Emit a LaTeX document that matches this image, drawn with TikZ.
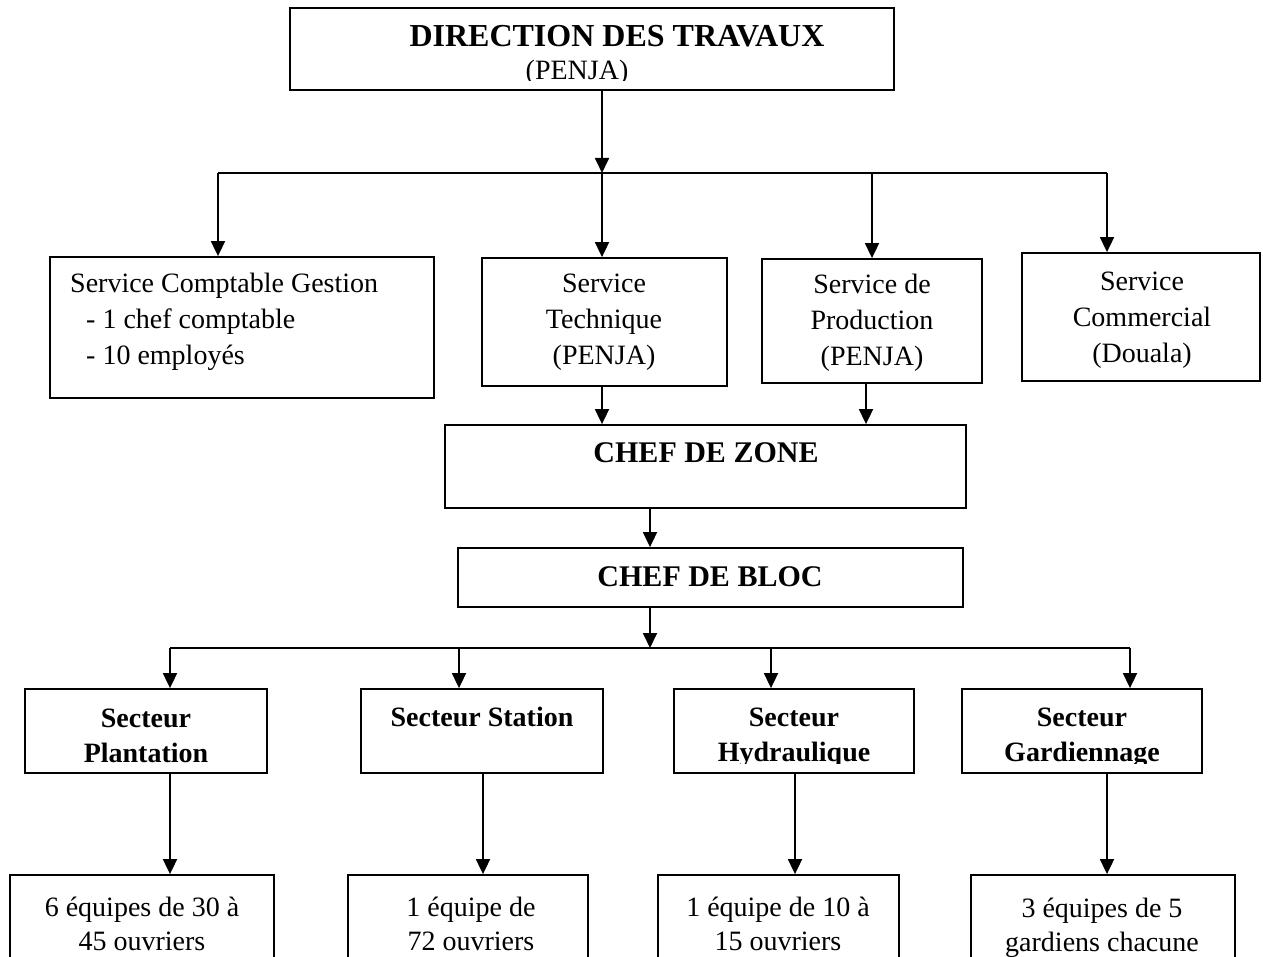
\documentclass[tikz,border=0pt]{standalone}
\usepackage{fontspec}
\setmainfont{Liberation Serif}
\usetikzlibrary{arrows.meta}
\begin{document}
\begin{tikzpicture}[x=1pt,y=-1pt,
  box/.style={draw,line width=1.8pt,inner sep=0pt,rectangle},
  txt/.style={inner sep=0pt,align=center,font=\fontsize{28}{36}\selectfont},
  ltxt/.style={inner sep=0pt,align=center,font=\fontsize{28}{34}\selectfont},
  btxt/.style={inner sep=0pt,align=center,font=\fontsize{28}{35}\selectfont\bfseries},
  captxt/.style={inner sep=0pt,align=center,font=\fontsize{30}{36}\selectfont\bfseries},
  conn/.style={line width=1.8pt},
  arr/.style={line width=1.8pt,-{Triangle[length=15pt,width=14pt]}}]
\useasboundingbox (0,0) rectangle (1263,957);
% boxes
\node[box,minimum width=604pt,minimum height=82pt] (dir) at (592,49) {};
\node[box,minimum width=384pt,minimum height=141pt] (comp) at (242,327.5) {};
\node[box,minimum width=245pt,minimum height=128pt] (tech) at (604.5,322) {};
\node[box,minimum width=220pt,minimum height=124pt] (prod) at (872,321) {};
\node[box,minimum width=238pt,minimum height=128pt] (comm) at (1141,317) {};
\node[box,minimum width=521pt,minimum height=83pt] (zone) at (705.5,466.5) {};
\node[box,minimum width=505pt,minimum height=59pt] (bloc) at (710.5,577.5) {};
\node[box,minimum width=242pt,minimum height=84pt] (plant) at (146,731) {};
\node[box,minimum width=242pt,minimum height=84pt] (stat) at (482,731) {};
\node[box,minimum width=240pt,minimum height=84pt] (hydr) at (794,731) {};
\node[box,minimum width=240pt,minimum height=84pt] (gard) at (1082,731) {};
\node[box,minimum width=264pt,minimum height=100pt] (b1) at (142,925) {};
\node[box,minimum width=240pt,minimum height=100pt] (b2) at (468,925) {};
\node[box,minimum width=241pt,minimum height=100pt] (b3) at (778.5,925) {};
\node[box,minimum width=264pt,minimum height=100pt] (b4) at (1103,925) {};
% texts
\node[inner sep=0pt,font=\fontsize{32}{36}\selectfont\bfseries] (tdir) at (617,36) {DIRECTION DES TRAVAUX};
\coordinate (cutP) at (0,81);
\begin{scope}
\clip (dir.north west) rectangle (dir.east |- cutP);
\node[txt] (tpenja) at (577,73) {(PENJA)};
\end{scope}
\node[txt,align=left,anchor=west] (tcomp) at (70,322) {Service Comptable Gestion\\\hspace*{16pt}- 1 chef comptable\\\hspace*{16pt}- 10 employés};
\node[txt] (ttech) at (604,322) {Service\\Technique\\(PENJA)};
\node[txt] (tprod) at (872,323) {Service de\\Production\\(PENJA)};
\node[txt] (tcomm) at (1142,320) {Service\\Commercial\\(Douala)};
\node[captxt] (tzone) at (706,453) {CHEF DE ZONE};
\node[captxt] (tbloc) at (710,577) {CHEF DE BLOC};
\node[btxt] (tplant) at (146,736) {Secteur\\Plantation};
\node[btxt] (tstat) at (482,717) {Secteur Station};
\coordinate (cutH) at (0,763);
\begin{scope}
\clip (hydr.north west) rectangle (gard.east |- cutH);
\node[btxt] (thydr) at (794,737.5) {Secteur\\Hydraulique};
\node[btxt] (tgard) at (1082,737.5) {Secteur\\Gardiennage};
\end{scope}
\node[ltxt] (tb1) at (142,924) {6 équipes de 30 à\\45 ouvriers};
\node[ltxt] (tb2) at (471,924) {1 équipe de\\72 ouvriers};
\node[ltxt] (tb3) at (778,924) {1 équipe de 10 à\\15 ouvriers};
\node[ltxt] (tb4) at (1102,928) {3 équipes de 5\\gardiens chacune};
% connectors level 1
\coordinate (c1) at (602,173);
\coordinate (c1l) at (218,173);
\coordinate (c1p) at (872,173);
\coordinate (c1r) at (1107,173);
\draw[arr] (dir.south -| c1) -- (c1);
\draw[conn] (c1l) -- (c1r);
\draw[arr] (c1l) -- (c1l |- comp.north);
\draw[arr] (c1) -- (c1 |- tech.north);
\draw[arr] (c1p) -- (c1p |- prod.north);
\draw[arr] (c1r) -- (c1r |- comm.north);
% to zone
\coordinate (xt) at (602,400);
\coordinate (xp) at (866,400);
\draw[arr] (tech.south -| xt) -- (zone.north -| xt);
\draw[arr] (prod.south -| xp) -- (zone.north -| xp);
% zone to bloc
\coordinate (xz) at (650,530);
\draw[arr] (zone.south -| xz) -- (bloc.north -| xz);
% bloc to sectors
\coordinate (c2) at (650,648);
\coordinate (c2l) at (170,648);
\coordinate (c2a) at (459,648);
\coordinate (c2b) at (771,648);
\coordinate (c2r) at (1130,648);
\draw[arr] (bloc.south -| c2) -- (c2);
\draw[conn] (c2l) -- (c2r);
\draw[arr] (c2l) -- (c2l |- plant.north);
\draw[arr] (c2a) -- (c2a |- stat.north);
\draw[arr] (c2b) -- (c2b |- hydr.north);
\draw[arr] (c2r) -- (c2r |- gard.north);
% sectors to bottom
\coordinate (d1) at (170,820);
\coordinate (d2) at (483,820);
\coordinate (d3) at (795,820);
\coordinate (d4) at (1107,820);
\draw[arr] (plant.south -| d1) -- (b1.north -| d1);
\draw[arr] (stat.south -| d2) -- (b2.north -| d2);
\draw[arr] (hydr.south -| d3) -- (b3.north -| d3);
\draw[arr] (gard.south -| d4) -- (b4.north -| d4);
\end{tikzpicture}
\end{document}
